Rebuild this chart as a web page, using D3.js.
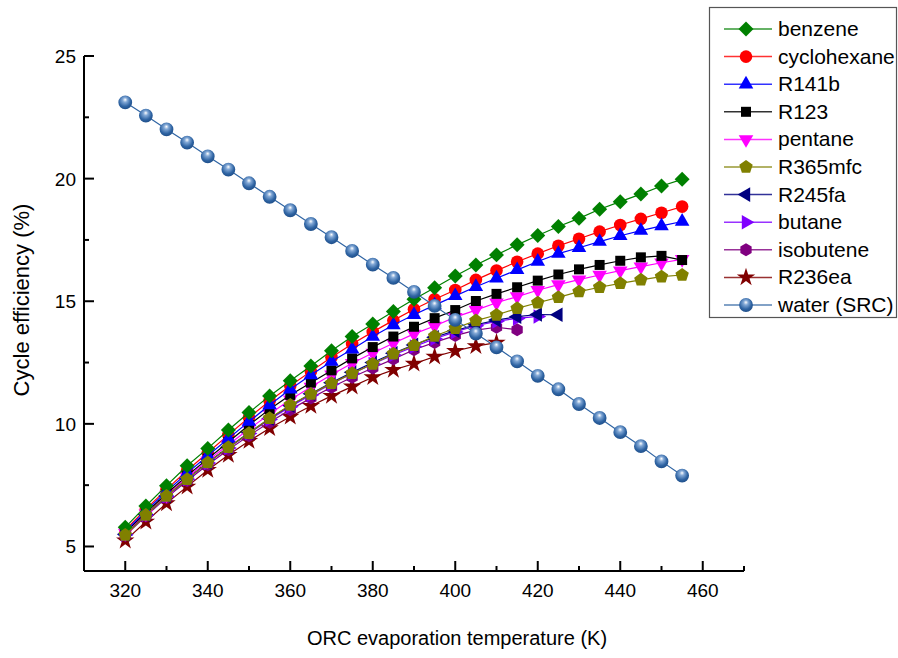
<!DOCTYPE html>
<html><head><meta charset="utf-8">
<script src="https://cdn.jsdelivr.net/npm/d3@7"></script>
<style>body{margin:0;background:#fff} svg{display:block} text{font-family:Arial,"Liberation Sans",sans-serif;fill:#000}</style>
</head><body><svg id="c" width="898" height="658"></svg>
<script>
// ---------------- data ----------------
const temps = [320,325,330,335,340,345,350,355,360,365,370,375,380,385,390,395,400,405,410,415,420,425,430,435,440,445,450,455];
const benzene     = [5.78,6.65,7.48,8.29,9.00,9.75,10.46,11.14,11.76,12.36,12.98,13.56,14.07,14.58,15.08,15.55,16.03,16.48,16.89,17.30,17.68,18.05,18.38,18.75,19.06,19.37,19.70,19.97];
const cyclohexane = [5.68,6.52,7.33,8.10,8.82,9.55,10.26,10.93,11.55,12.14,12.72,13.26,13.75,14.22,14.67,15.08,15.46,15.87,16.25,16.61,16.94,17.26,17.55,17.84,18.11,18.36,18.61,18.86];
const r141b       = [5.62,6.45,7.24,7.99,8.70,9.40,10.09,10.77,11.41,11.99,12.54,13.04,13.56,14.03,14.45,14.84,15.22,15.59,15.94,16.28,16.62,16.94,17.18,17.43,17.67,17.88,18.07,18.25];
const r123        = [5.58,6.38,7.15,7.89,8.58,9.26,9.95,10.60,11.18,11.68,12.18,12.67,13.13,13.56,13.96,14.31,14.64,15.01,15.30,15.57,15.84,16.09,16.30,16.48,16.65,16.79,16.85,16.68];
const pentane     = [5.55,6.34,7.10,7.82,8.50,9.15,9.79,10.40,10.98,11.50,12.00,12.47,12.89,13.29,13.67,13.99,14.35,14.64,14.94,15.19,15.45,15.68,15.88,16.07,16.25,16.41,16.57,16.71];
const r365mfc     = [5.47,6.28,7.06,7.74,8.42,9.04,9.62,10.23,10.77,11.22,11.65,12.06,12.44,12.86,13.20,13.58,13.90,14.21,14.44,14.71,14.94,15.16,15.39,15.57,15.73,15.87,16.00,16.07];
const r245fa      = [5.50,6.30,7.06,7.76,8.43,9.05,9.64,10.22,10.75,11.23,11.68,12.10,12.50,12.88,13.22,13.53,13.80,14.04,14.23,14.37,14.46,14.45];
const butane      = [5.48,6.28,7.04,7.74,8.40,9.02,9.61,10.18,10.70,11.18,11.63,12.05,12.44,12.81,13.15,13.47,13.75,14.00,14.18,14.30,14.38];
const isobutene   = [5.45,6.24,6.99,7.68,8.33,8.94,9.52,10.07,10.58,11.05,11.49,11.90,12.28,12.64,13.02,13.32,13.60,13.82,13.94,13.84];
const r236ea      = [5.24,6.01,6.76,7.44,8.12,8.73,9.30,9.82,10.29,10.73,11.14,11.52,11.90,12.20,12.45,12.74,12.97,13.17,13.31];
const water       = [23.11,22.57,22.01,21.47,20.91,20.37,19.81,19.26,18.71,18.15,17.61,17.05,16.49,15.95,15.38,14.81,14.24,13.68,13.12,12.55,11.96,11.41,10.81,10.24,9.66,9.09,8.47,7.89];

const seriesNames = ["benzene","cyclohexane","R141b","R123","pentane","R365mfc","R245fa","butane","isobutene","R236ea","water (SRC)"];
const xTickLabels = [320,340,360,380,400,420,440,460];
const xMinorTicks = [330,350,370,390,410,430,450,470];
const yTickLabels = [5,10,15,20,25];
const yMinorTicks = [7.5,12.5,17.5,22.5];
const xLabel = "ORC evaporation temperature (K)";
const yLabel = "Cycle efficiency (%)";

// ---------------- symbols ----------------
function poly(n, rot){ // regular polygon, size = area
  return {draw(ctx, size){
    const area = n/2*Math.sin(2*Math.PI/n);
    const r = Math.sqrt(size/area);
    for(let i=0;i<n;i++){
      const a = rot + i*2*Math.PI/n;
      const px = r*Math.cos(a), py = r*Math.sin(a);
      if(i===0) ctx.moveTo(px,py); else ctx.lineTo(px,py);
    }
    ctx.closePath();
  }};
}
const symDiamond = poly(4, -Math.PI/2);
const symTriUp = poly(3, -Math.PI/2);
const symTriDown = poly(3, Math.PI/2);
const symTriLeft = poly(3, Math.PI);
const symTriRight = poly(3, 0);
const symPent = poly(5, -Math.PI/2);
const symHex = poly(6, -Math.PI/2);

const seriesData = [benzene,cyclohexane,r141b,r123,pentane,r365mfc,r245fa,butane,isobutene,r236ea,water];
const colors = ["#008000","#ff0000","#0000ff","#000000","#ff00ff","#808000","#000080","#8000ff","#800080","#800000","#2f64a3"];
const symbols = [symDiamond,d3.symbolCircle,symTriUp,d3.symbolSquare,symTriDown,symPent,symTriLeft,symTriRight,symHex,d3.symbolStar,d3.symbolCircle];
const sizes = [112,125,92,100,92,118,92,92,110,105,150];

const series = seriesNames.map((name,i)=>({
  name, color: colors[i], symbol: symbols[i], size: sizes[i],
  points: seriesData[i].map((v,j)=>({x: temps[j], y: v}))
}));

// ---------------- chart ----------------
const svg = d3.select("#c");
const defs = svg.append("defs");
const grad = defs.append("radialGradient").attr("id","ball").attr("cx","45%").attr("cy","40%").attr("r","60%").attr("fx","50%").attr("fy","30%");
grad.append("stop").attr("offset","0%").attr("stop-color","#ffffff");
grad.append("stop").attr("offset","28%").attr("stop-color","#82a8d6");
grad.append("stop").attr("offset","72%").attr("stop-color","#2f64a3");
grad.append("stop").attr("offset","100%").attr("stop-color","#1f4f8a");

const x = d3.scaleLinear().domain([310,470]).range([84,744]);
const y = d3.scaleLinear().domain([4,25]).range([571,56]);

// axes
const g = svg.append("g");
g.append("line").attr("x1",x(310)).attr("x2",x(470)).attr("y1",y(4)).attr("y2",y(4)).attr("stroke","#000").attr("stroke-width",2);
g.append("line").attr("x1",x(310)).attr("x2",x(310)).attr("y1",y(4)).attr("y2",y(25)).attr("stroke","#000").attr("stroke-width",2);
g.selectAll(".xt").data(xTickLabels).join("line").attr("x1",d=>x(d)).attr("x2",d=>x(d)).attr("y1",y(4)).attr("y2",y(4)-10).attr("stroke","#000").attr("stroke-width",2);
g.selectAll(".xm").data(xMinorTicks).join("line").attr("x1",d=>x(d)).attr("x2",d=>x(d)).attr("y1",y(4)).attr("y2",y(4)-5).attr("stroke","#000").attr("stroke-width",2);
g.selectAll(".yt").data(yTickLabels).join("line").attr("x1",x(310)).attr("x2",x(310)+10).attr("y1",d=>y(d)).attr("y2",d=>y(d)).attr("stroke","#000").attr("stroke-width",2);
g.selectAll(".ym").data(yMinorTicks).join("line").attr("x1",x(310)).attr("x2",x(310)+5).attr("y1",d=>y(d)).attr("y2",d=>y(d)).attr("stroke","#000").attr("stroke-width",2);
g.selectAll(".xl").data(xTickLabels).join("text").attr("x",d=>x(d)).attr("y",y(4)+26).attr("text-anchor","middle").attr("font-size",19).text(d=>d);
g.selectAll(".yl").data(yTickLabels).join("text").attr("x",x(310)-8).attr("y",d=>y(d)+7).attr("text-anchor","end").attr("font-size",19).text(d=>d);
g.append("text").attr("x",457).attr("y",645).attr("text-anchor","middle").attr("font-size",20).text(xLabel);
g.append("text").attr("transform","translate(29,300) rotate(-90)").attr("text-anchor","middle").attr("font-size",22).text(yLabel);

// series
const line = d3.line().x(d=>x(d.x)).y(d=>y(d.y));
const order = [1,9,8,7,6,4,3,2,0,5,10];
order.forEach(i=>{
  const s = series[i];
  const sg = svg.append("g");
  sg.append("path").attr("d",line(s.points)).attr("fill","none").attr("stroke",s.color).attr("stroke-width",1.2);
  sg.selectAll("path.m").data(s.points).join("path").attr("class","m")
    .attr("transform",d=>`translate(${x(d.x)},${y(d.y)})`)
    .attr("d",d3.symbol().type(s.symbol).size(s.size))
    .attr("fill", i===10 ? "url(#ball)" : s.color);
});

// legend
const lg = svg.append("g");
lg.append("rect").attr("x",709.5).attr("y",7.5).attr("width",187).attr("height",310).attr("fill","#fff").attr("stroke","#555").attr("stroke-width",1.2);
series.forEach((s,i)=>{
  const cy = 29 + i*27.6;
  lg.append("line").attr("x1",724).attr("x2",772).attr("y1",cy).attr("y2",cy).attr("stroke",s.color).attr("stroke-width",1.5).attr("opacity",0.8);
  lg.append("path").attr("transform",`translate(746,${cy})`).attr("d",d3.symbol().type(s.symbol).size(s.size)).attr("fill", i===10 ? "url(#ball)" : s.color);
  lg.append("text").attr("x",778).attr("y",cy+7).attr("font-size",21).text(s.name);
});
</script></body></html>
